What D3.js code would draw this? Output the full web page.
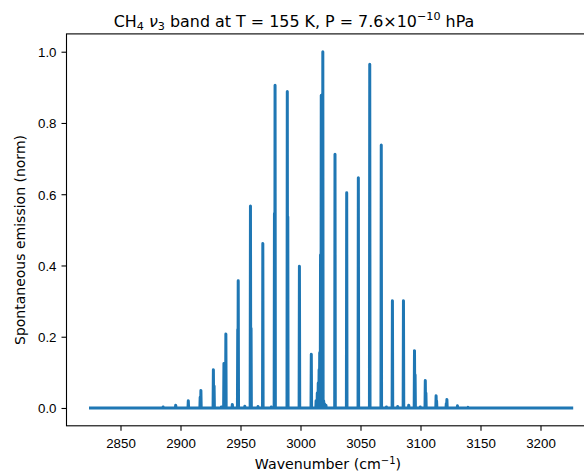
<!DOCTYPE html>
<html>
<head>
<meta charset="utf-8">
<script src="https://cdn.jsdelivr.net/npm/d3@7"></script>
<style>
  body { margin: 0; background: #fff; }
  svg { display: block; font-family: "DejaVu Sans", sans-serif; }
  .axis text { font-size: 13.3px; fill: #000; }
  .axis path, .axis line { stroke: #000; stroke-width: 1.1px; }
</style>
</head>
<body>
<svg id="chart" width="584" height="472"></svg>
<script>
// spectrum range (cm-1)
var waveRange = [2825, 3226];

// line centres (cm-1) and normalised emission
var lineCenters = [
  2885.5, 2896.0, 2906.5, 2916.4, 2917.0, 2927.4, 2928.0, 2934.0, 2936.2, 2937.8,
  2943.2, 2947.7, 2948.1, 2953.6, 2958.3, 2958.8, 2964.6, 2968.6, 2975.6, 2978.3,
  2978.8, 2989.0, 2989.4, 2999.1, 3009.0,
  3013.0, 3014.0, 3014.8, 3015.5, 3016.0, 3016.7, 3017.3, 3018.0, 3018.6, 3019.3,
  3020.0, 3021.2,
  3028.75, 3038.5, 3048.2, 3057.7, 3067.3, 3071.6, 3076.6, 3081.0, 3085.8, 3090.2,
  3095.0, 3095.5, 3099.8, 3104.0, 3104.5, 3113.0, 3113.4, 3121.5, 3122.0, 3130.8,
  3139.6
];
var lineIntensities = [
  0.003, 0.008, 0.020, 0.030, 0.049, 0.107, 0.062, 0.003, 0.125, 0.208,
  0.010, 0.220, 0.357, 0.005, 0.567, 0.224, 0.004, 0.462, 0.003, 0.546,
  0.906, 0.888, 0.537, 0.398, 0.151,
  0.020, 0.042, 0.070, 0.107, 0.155, 0.430, 0.878, 0.560, 1.000, 0.020,
  0.012, 0.008,
  0.712, 0.604, 0.646, 0.965, 0.738, 0.003, 0.301, 0.004, 0.301, 0.008,
  0.161, 0.093, 0.003, 0.077, 0.042, 0.034, 0.020, 0.012, 0.024, 0.006,
  0.002
];

var xTicks = [2850, 2900, 2950, 3000, 3050, 3100, 3150, 3200];
var yTicks = [0.0, 0.2, 0.4, 0.6, 0.8, 1.0];

var svg = d3.select("#chart");

var x = d3.scaleLinear().domain([2805, 3245]).range([66.5, 594.5]);
var y = d3.scaleLinear().domain([-0.05, 1.05]).range([425.8, 33.9]);

// build spikes on a zero baseline
var lines = lineCenters.map(function (c, i) {
  return { c: c, v: lineIntensities[i] };
}).sort(function (a, b) { return a.c - b.c; });

var pts = [[waveRange[0], 0]];
lines.forEach(function (d) {
  pts.push([d.c - 0.25, 0]);
  pts.push([d.c, d.v]);
  pts.push([d.c + 0.25, 0]);
});
pts.push([waveRange[1], 0]);

var line = d3.line()
  .x(function (d) { return x(d[0]); })
  .y(function (d) { return y(d[1]); });

svg.append("path")
  .datum(pts)
  .attr("d", line)
  .attr("fill", "none")
  .attr("stroke", "#1f77b4")
  .attr("stroke-width", 3)
  .attr("stroke-linejoin", "round")
  .attr("stroke-linecap", "square");

// frame (right edge falls outside the picture)
svg.append("rect")
  .attr("x", 66.5).attr("y", 33.9)
  .attr("width", 528).attr("height", 391.9)
  .attr("fill", "none").attr("stroke", "#000").attr("stroke-width", 1.1);

var xAxis = svg.append("g")
  .attr("class", "axis")
  .attr("transform", "translate(0,425.8)")
  .call(d3.axisBottom(x).tickValues(xTicks).tickSize(5).tickPadding(8).tickFormat(d3.format("d")));
xAxis.select(".domain").remove();

var yAxis = svg.append("g")
  .attr("class", "axis")
  .attr("transform", "translate(66.5,0)")
  .call(d3.axisLeft(y).tickValues(yTicks).tickSize(5).tickPadding(5).tickFormat(d3.format(".1f")));
yAxis.select(".domain").remove();
yAxis.selectAll("text").attr("dy", "0.36em");

// title
var title = svg.append("text")
  .attr("x", 294).attr("y", 26.5)
  .attr("text-anchor", "middle")
  .style("font-size", "15.9px");
title.append("tspan").text("CH");
title.append("tspan").attr("dy", 3.5).style("font-size", "11.2px").text("4");
title.append("tspan").attr("dy", -3.5).text(" ");
title.append("tspan").style("font-style", "italic").text("ν");
title.append("tspan").attr("dy", 3.5).style("font-size", "11.2px").text("3");
title.append("tspan").attr("dy", -3.5).text(" band at T = 155 K, P = 7.6×10");
title.append("tspan").attr("dy", -7).style("font-size", "11.2px").text("−10");
title.append("tspan").attr("dy", 7).text(" hPa");

// axis labels
var xl = svg.append("text")
  .attr("x", 328).attr("y", 469)
  .attr("text-anchor", "middle")
  .style("font-size", "14.2px");
xl.append("tspan").text("Wavenumber (cm");
xl.append("tspan").attr("dy", -5.5).style("font-size", "10px").text("−1");
xl.append("tspan").attr("dy", 5.5).text(")");

svg.append("text")
  .attr("transform", "translate(25,240) rotate(-90)")
  .attr("text-anchor", "middle")
  .style("font-size", "14px")
  .text("Spontaneous emission (norm)");
</script>
</body>
</html>
